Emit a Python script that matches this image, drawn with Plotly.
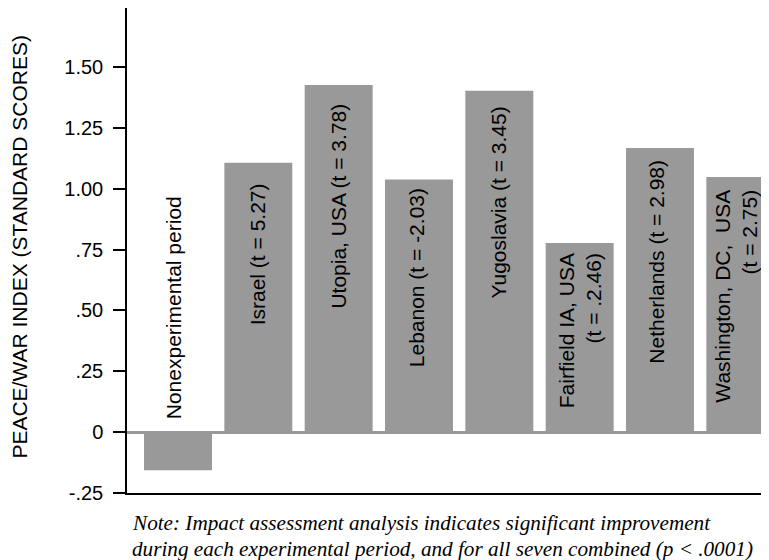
import plotly.graph_objects as go

# ---- data ----
categories = ["Nonexperimental period", "Israel (t = 5.27)", "Utopia, USA (t = 3.78)",
              "Lebanon (t = -2.03)", "Yugoslavia (t = 3.45)", "Fairfield IA, USA<br>(t = .2.46)",
              "Netherlands (t = 2.98)", "Washington, DC,\u00a0\u00a0USA<br>(t = 2.75)"]
values = [-0.157, 1.107, 1.427, 1.038, 1.403, 0.777, 1.168, 1.049]
tick_vals = [-0.25, 0, 0.25, 0.5, 0.75, 1.0, 1.25, 1.5]
tick_text = ["-.25", "0", ".25", ".50", ".75", "1.00", "1.25", "1.50"]
y_title = "PEACE/WAR INDEX (STANDARD SCORES)"
note_lines = ["Note: Impact assessment analysis indicates significant improvement",
              "during each experimental period, and for all seven combined (p < .0001)"]

# ---- label placement (layout only) ----
label_top = [0.977, 1.031, 1.359, 1.011, 1.345, 0.744, 1.127, 1.004]
label_dx = [-0.046, -0.016, 0.0, -0.03, -0.01, 0.0, -0.04, -0.05]
note_y = [-0.062, -0.1145]

SANS = "Liberation Sans, Arial, Helvetica, sans-serif"
BAR = "#999999"

xs = list(range(len(categories)))

fig = go.Figure()
fig.add_trace(go.Bar(x=xs, y=values, marker=dict(color=BAR, line=dict(width=0)),
                     hoverinfo="skip", showlegend=False))

for i, lab in enumerate(categories):
    fig.add_annotation(x=xs[i] + label_dx[i], y=label_top[i], xref="x", yref="y",
                       text=lab, textangle=-90, showarrow=False,
                       xanchor="center", yanchor="top", align="right",
                       font=dict(family=SANS, size=21, color="black"))

for line, yy in zip(note_lines, note_y):
    fig.add_annotation(x=0.004, y=yy, xref="paper", yref="paper", text=line,
                       showarrow=False, xanchor="left", yanchor="middle", align="left",
                       font=dict(family="Liberation Serif, Times New Roman, serif", size=21.2,
                                 color="black", style="italic"))

fig.add_annotation(x=-0.1667, y=0.508, xref="paper", yref="paper", text=y_title,
                   textangle=-90, showarrow=False, xanchor="center", yanchor="middle",
                   font=dict(family=SANS, size=21, color="black"))

fig.update_layout(
    width=761, height=552,
    margin=dict(l=119, r=0, t=0, b=67),
    paper_bgcolor="white", plot_bgcolor="white",
    bargap=0.154,
    xaxis=dict(range=[-0.635, 7.357], showticklabels=False, ticks="",
               showgrid=False, zeroline=False, showline=True,
               linecolor="black", linewidth=1.5, fixedrange=True),
    yaxis=dict(range=[-0.25, 1.743], tickvals=tick_vals, ticktext=tick_text,
               ticks="outside", ticklen=12, tickwidth=1.5, tickcolor="black",
               ticklabelstandoff=6,
               showgrid=False, showline=True, linecolor="black", linewidth=1.5,
               zeroline=True, zerolinecolor=BAR, zerolinewidth=2.5,
               tickfont=dict(family=SANS, size=20, color="black"), fixedrange=True),
)

fig.write_html("out.html")
